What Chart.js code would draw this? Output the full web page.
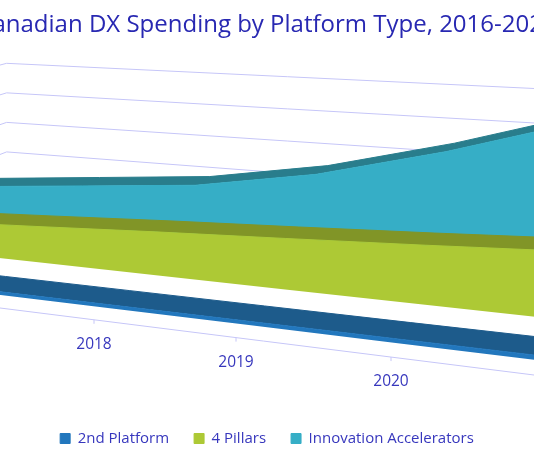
<!DOCTYPE html>
<html>
<head>
<meta charset="utf-8">
<title>Canadian DX Spending by Platform Type, 2016-2021</title>
<script src="https://cdn.jsdelivr.net/npm/chart.js@4/dist/chart.umd.min.js"></script>
<style>
  html, body { margin: 0; padding: 0; background: #fff; overflow: hidden; }
  #wrap { width: 534px; height: 462px; overflow: hidden; position: relative; }
  #chart { display: block; margin-left: -33px; }
</style>
</head>
<body>
<div id="wrap"><canvas id="chart" width="600" height="462"></canvas></div>
<script>
// values (value axis labels are cut off in the source, units are axis steps)
var years = [2016, 2017, 2018, 2019, 2020, 2021];
var secondPlatform = [0.08, 0.085, 0.09, 0.095, 0.10, 0.11];
var fourPillars = [0.87, 1.04, 1.22, 1.38, 1.55, 1.74];
var innovationAccelerators = [1.25, 1.56, 1.87, 2.48, 3.40, 4.50];
var seriesLabels = ['2nd Platform', '4 Pillars', 'Innovation Accelerators'];
var valueTicks = [0, 1, 2, 3, 4, 5];

var frontColors = ['#2277bd', '#adc935', '#36aec6'];
var topColors = ['#1d5b8b', '#819527', '#297d8c'];
var gridColor = '#c6c6f8';
var textColor = '#3737bd';
var font = "'Open Sans', sans-serif";

// 3d look: the hidden scales give a flat front plane, this camera bends it
var cam = {
    shiftX: 33,
    kx: 121.88, wx: -0.03869, x0: -157.03, zx: 700,
    ky: 3.379, y0: 288.29, zy: -116.6, vy: 36.5
};
var rows = [[0.025, 0.058], [0.105, 0.138], [0.185, 0.218]];
var backWall = 0.236;

function project(X, Y, u) {
    var w = 1 + cam.wx * X + u;
    return {
        x: (cam.kx * X + cam.zx * u + cam.x0) / w + cam.shiftX,
        y: (cam.ky * X + cam.zy * u + cam.y0 - cam.vy * Y) / w
    };
}

var datasets = [];
[secondPlatform, fourPillars, innovationAccelerators].forEach(function (vals, s) {
    var common = { clip: false, pointRadius: 0, pointHoverRadius: 0, tension: 0 };
    datasets.push(Object.assign({
        label: seriesLabels[s] + ' floor', face: 'floor', depth: rows[s][0],
        data: vals.map(function () { return 0; }), borderWidth: 0, fill: false
    }, common));
    datasets.push(Object.assign({
        label: seriesLabels[s], face: 'front', depth: rows[s][0],
        data: vals.slice(), backgroundColor: frontColors[s], borderColor: frontColors[s],
        borderWidth: 1, fill: '-1'
    }, common));
    datasets.push(Object.assign({
        label: seriesLabels[s] + ' top', face: 'top', depth: rows[s][1],
        data: vals.slice(), backgroundColor: topColors[s], borderColor: topColors[s],
        borderWidth: 1, fill: '-1'
    }, common));
});

var fullArea = {
    id: 'fullArea',
    afterLayout: function (chart) {
        chart.chartArea = { left: 0, top: 0, right: chart.width, bottom: chart.height,
            width: chart.width, height: chart.height };
    }
};

var perspective = {
    id: 'perspective',
    afterDatasetsUpdate: function (chart) {
        var xs = chart.scales.x, ys = chart.scales.y, last = years.length - 1;
        chart.data.datasets.forEach(function (ds, i) {
            chart.getDatasetMeta(i).data.forEach(function (pt) {
                var p = project(xs.getDecimalForPixel(pt.x) * last, ys.getValueForPixel(pt.y), ds.depth);
                pt.x = p.x;
                pt.y = p.y;
            });
        });
    },
    beforeDatasetsDraw: function (chart) {
        // back wall and side wall gridlines
        var ctx = chart.ctx, last = years.length - 1;
        var ticks = chart.scales.y.ticks.length ? chart.scales.y.ticks.map(function (t) { return t.value; }) : valueTicks;
        ctx.save();
        ctx.strokeStyle = gridColor;
        ctx.lineWidth = 1;
        ticks.forEach(function (v) {
            var a = project(last, v, backWall), b = project(0, v, backWall), c = project(0, v, 0);
            ctx.beginPath();
            ctx.moveTo(a.x, a.y);
            ctx.lineTo(b.x, b.y);
            ctx.lineTo(c.x, c.y);
            ctx.stroke();
        });
        ctx.restore();
    },
    afterDatasetsDraw: function (chart) {
        // category axis on the front edge of the floor
        var ctx = chart.ctx, xs = chart.scales.x, last = years.length - 1;
        var a = project(0, 0, 0), b = project(last, 0, 0);
        ctx.save();
        ctx.strokeStyle = gridColor;
        ctx.lineWidth = 1;
        ctx.beginPath();
        ctx.moveTo(a.x, a.y);
        ctx.lineTo(b.x, b.y);
        ctx.stroke();
        ctx.fillStyle = textColor;
        ctx.font = '15.5px ' + font;
        ctx.textAlign = 'center';
        ctx.textBaseline = 'middle';
        xs.ticks.forEach(function (t) {
            var p = project((t.value - xs.min) / (xs.max - xs.min) * last, 0, 0);
            ctx.beginPath();
            ctx.moveTo(p.x, p.y);
            ctx.lineTo(p.x, p.y + 4);
            ctx.stroke();
            ctx.fillText(t.label, p.x, p.y + 25);
        });
        ctx.restore();
    }
};

new Chart(document.getElementById('chart'), {
    type: 'line',
    data: { labels: years, datasets: datasets },
    options: {
        responsive: false,
        animation: false,
        events: [],
        layout: { padding: { left: 0, right: 0, top: 0, bottom: 6 } },
        scales: {
            x: { type: 'linear', display: false, min: years[0], max: years[years.length - 1],
                ticks: { stepSize: 1, callback: function (v) { return String(v); } } },
            y: { type: 'linear', display: false, min: valueTicks[0], max: valueTicks[valueTicks.length - 1],
                ticks: { stepSize: 1 } }
        },
        plugins: {
            title: {
                display: true,
                text: 'Canadian DX Spending by Platform Type, 2016-2021',
                color: '#2828b2',
                font: { family: font, size: 24, weight: 'normal' },
                padding: { top: 11, bottom: 6 }
            },
            legend: {
                position: 'bottom',
                labels: {
                    boxWidth: 10, boxHeight: 10, padding: 25,
                    color: textColor,
                    font: { family: font, size: 15 },
                    filter: function (item, data) { return data.datasets[item.datasetIndex].face === 'front'; }
                }
            },
            tooltip: { enabled: false }
        }
    },
    plugins: [fullArea, perspective]
});
</script>
</body>
</html>
